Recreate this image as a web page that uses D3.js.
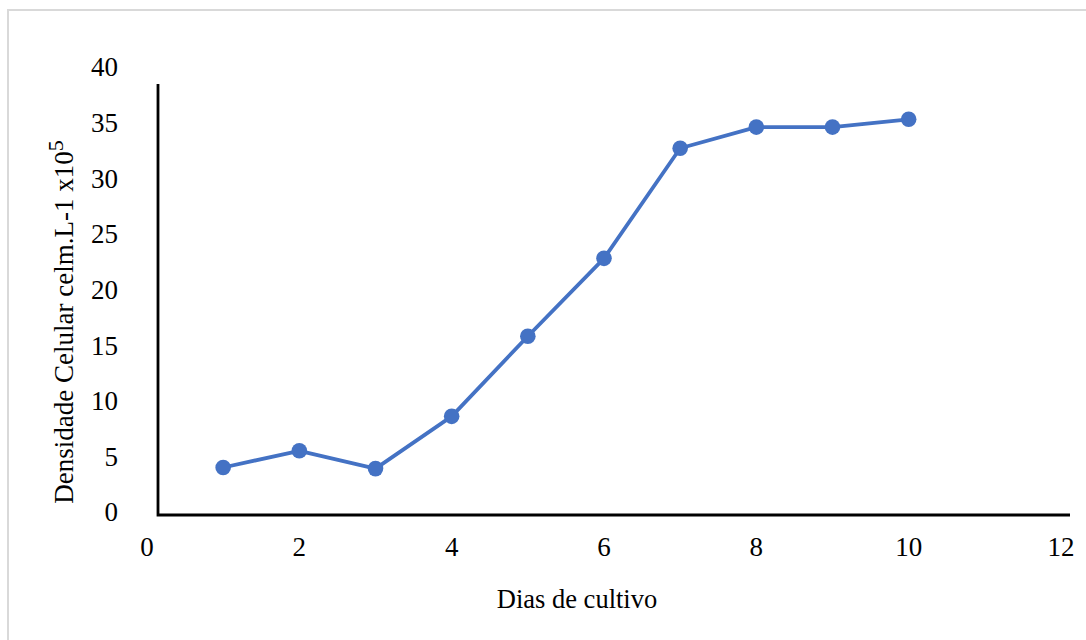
<!DOCTYPE html>
<html>
<head>
<meta charset="utf-8">
<script src="https://cdn.jsdelivr.net/npm/d3@7"></script>
<style>
    html, body { margin: 0; padding: 0; background: #fff; }
    svg { display: block; }
    text { font-family: "Liberation Serif", "Times New Roman", serif; fill: #000; }
</style>
</head>
<body>
<div id="chart"></div>
<script>
// growth curve: cell density per day of culture
const days = [1, 2, 3, 4, 5, 6, 7, 8, 9, 10];
const density = [4.0, 5.5, 3.9, 8.6, 15.8, 22.8, 32.7, 34.6, 34.6, 35.3];
const xTicks = [0, 2, 4, 6, 8, 10, 12];
const yTicks = [0, 5, 10, 15, 20, 25, 30, 35, 40];

const width = 1086, height = 640;
const color = "#4472C4";

const svg = d3.select("#chart")
    .append("svg")
    .attr("width", width)
    .attr("height", height);

// chart area border (runs off the right and bottom edges)
svg.append("rect")
    .attr("x", 8).attr("y", 10)
    .attr("width", width).attr("height", height)
    .attr("fill", "none")
    .attr("stroke", "#d9d9d9")
    .attr("stroke-width", 2);

const x = d3.scaleLinear().domain([0, 12]).range([147, 1061]);
const y = d3.scaleLinear().domain([0, 40]).range([512, 67]);

// axis lines, drawn a little off the label grid like the original
const axisShift = { x: 11, y: 3 };
svg.append("path")
    .attr("d", `M${x(0) + axisShift.x},${y(40) + 17}V${y(0) + axisShift.y}H${x(12) + 9}`)
    .attr("fill", "none")
    .attr("stroke", "#000")
    .attr("stroke-width", 2.8);

const tickFont = 27;

svg.append("g")
    .selectAll("text")
    .data(xTicks)
    .join("text")
    .attr("x", d => x(d))
    .attr("y", 556)
    .attr("text-anchor", "middle")
    .style("font-size", tickFont + "px")
    .text(d => d);

svg.append("g")
    .selectAll("text")
    .data(yTicks)
    .join("text")
    .attr("x", 118)
    .attr("y", d => y(d))
    .attr("dy", "0.35em")
    .attr("text-anchor", "end")
    .style("font-size", tickFont + "px")
    .text(d => d);

// axis titles
svg.append("text")
    .attr("x", 577)
    .attr("y", 608)
    .attr("text-anchor", "middle")
    .style("font-size", "26.5px")
    .text("Dias de cultivo");

const yTitle = svg.append("text")
    .attr("transform", "translate(73,322) rotate(-90)")
    .attr("text-anchor", "middle")
    .style("font-size", "27px");
yTitle.append("tspan").text("Densidade Celular celm.L-1 x10");
yTitle.append("tspan")
    .attr("dy", "-0.45em")
    .style("font-size", "22px")
    .text("5");

// series
const line = d3.line()
    .x((d, i) => x(days[i]))
    .y(d => y(d));

svg.append("path")
    .datum(density)
    .attr("d", line)
    .attr("fill", "none")
    .attr("stroke", color)
    .attr("stroke-width", 3.8)
    .attr("stroke-linejoin", "round");

svg.append("g")
    .selectAll("circle")
    .data(density)
    .join("circle")
    .attr("cx", (d, i) => x(days[i]))
    .attr("cy", d => y(d))
    .attr("r", 7.8)
    .attr("fill", color);
</script>
</body>
</html>
